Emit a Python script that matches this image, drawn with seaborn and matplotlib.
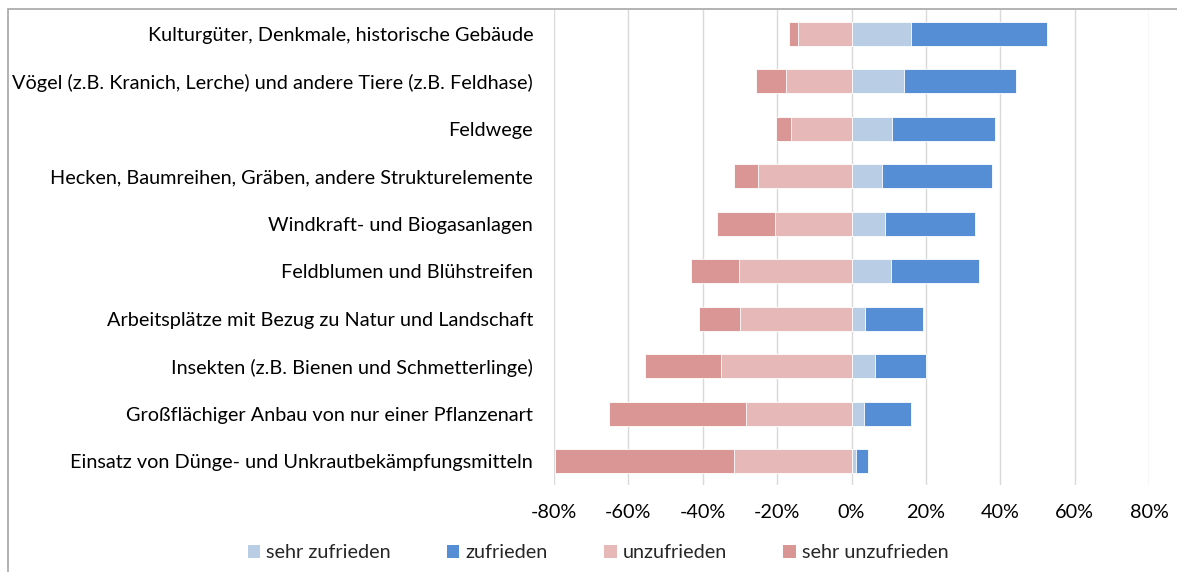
import pandas as pd
import matplotlib.pyplot as plt
import seaborn as sns
from matplotlib.patches import Patch, Rectangle
from matplotlib.ticker import FuncFormatter

categories = [
    "Kulturgüter, Denkmale, historische Gebäude",
    "Vögel (z.B. Kranich, Lerche) und andere Tiere (z.B. Feldhase)",
    "Feldwege",
    "Hecken, Baumreihen, Gräben, andere Strukturelemente",
    "Windkraft- und Biogasanlagen",
    "Feldblumen und Blühstreifen",
    "Arbeitsplätze mit Bezug zu Natur und Landschaft",
    "Insekten (z.B. Bienen und Schmetterlinge)",
    "Großflächiger Anbau von nur einer Pflanzenart",
    "Einsatz von Dünge- und Unkrautbekämpfungsmitteln",
]

# percentages
sehr_zufrieden = [16.1, 14.1, 10.8, 8.1, 9.0, 10.5, 3.7, 6.4, 3.4, 1.3]
zufrieden = [36.6, 30.2, 27.7, 29.8, 24.3, 23.8, 15.6, 13.6, 12.7, 3.1]
unzufrieden = [14.5, 17.7, 16.2, 25.2, 20.7, 30.2, 30.1, 35.0, 28.5, 31.5]
sehr_unzufrieden = [2.4, 8.0, 4.2, 6.4, 15.5, 12.9, 10.8, 20.5, 36.6, 48.3]

series_names = ["sehr zufrieden", "zufrieden", "unzufrieden", "sehr unzufrieden"]
colors = ["#B9CDE5", "#558ED5", "#E6B9B8", "#D99694"]

df = pd.DataFrame({
    "cat": categories,
    "sz": sehr_zufrieden,
    "z": zufrieden,
    "uz": unzufrieden,
    "suz": sehr_unzufrieden,
})
# cumulative extents for layered (stacked) bars
df["pos_total"] = df["sz"] + df["z"]
df["neg_total"] = -(df["uz"] + df["suz"])
df["neg_inner"] = -df["uz"]

sns.set_theme(style="white")
plt.rcParams["font.family"] = ["Lato", "DejaVu Sans"]
fs = 14.3

fig = plt.figure(figsize=(11.77, 5.72), dpi=100)
ax = fig.add_axes([554 / 1177, 1 - 485 / 572, (1149 - 554) / 1177, 475 / 572])

bar_kw = dict(orient="h", width=0.5, edgecolor="white", linewidth=0.6, saturation=1, ax=ax)
sns.barplot(data=df, x="pos_total", y="cat", color=colors[1], **bar_kw)
sns.barplot(data=df, x="sz", y="cat", color=colors[0], **bar_kw)
sns.barplot(data=df, x="neg_total", y="cat", color=colors[3], **bar_kw)
sns.barplot(data=df, x="neg_inner", y="cat", color=colors[2], **bar_kw)

ax.set_xlim(-80, 80)
ax.set_xticks(range(-80, 81, 20))
ax.xaxis.set_major_formatter(FuncFormatter(lambda v, p: f"{v:.0f}%"))
ax.grid(axis="x", color="#d9d9d9", linewidth=1)
ax.set_axisbelow(True)
for s in ax.spines.values():
    s.set_visible(False)
ax.set_xlabel("")
ax.set_ylabel("")
ax.tick_params(axis="both", length=0, labelsize=fs, colors="black")
ax.tick_params(axis="x", pad=14)
ax.tick_params(axis="y", pad=15)

handles = [Patch(facecolor=c, edgecolor="none") for c in colors]
fig.legend(handles, series_names, loc="center", bbox_to_anchor=(598 / 1177, 1 - 553 / 572),
           ncol=4, frameon=False, fontsize=fs, handlelength=0.62, handleheight=0.62,
           handletextpad=0.3, columnspacing=2.85)

# outer chart frame
fig.patches.append(Rectangle((8 / 1177, -0.05), 1.1, 1 - 9 / 572 + 0.05, transform=fig.transFigure,
                             fill=False, edgecolor="#a6a6a6", linewidth=1.2))

plt.savefig("out.png", dpi=100)
